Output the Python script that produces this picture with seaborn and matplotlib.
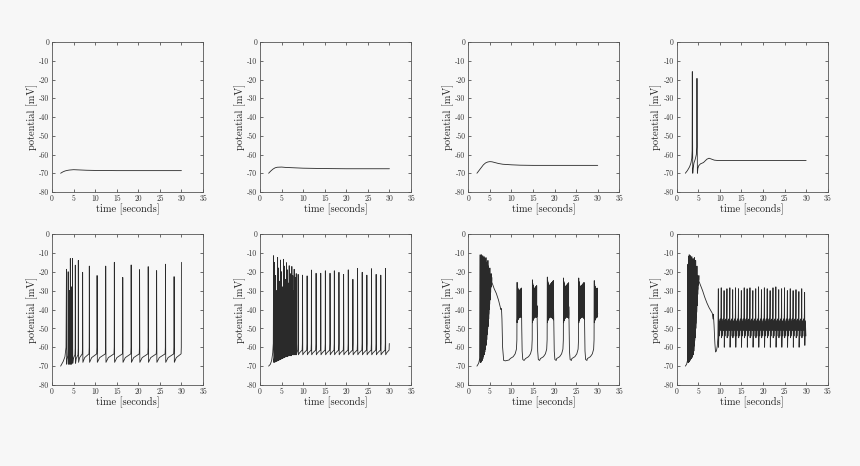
import numpy as np
import seaborn as sns
import matplotlib.pyplot as plt

T_END = 30

# ---- top row: sub-threshold / few spikes  (time [s], potential [mV])
p1_t = [2, 2.5, 3, 3.5, 4, 5, 6, 8, 10, 15, 20, 25, 30]
p1_v = [-70, -69.3, -68.8, -68.5, -68.3, -68.1, -68.2, -68.4, -68.5, -68.6, -68.6, -68.6, -68.6]

p2_t = [2, 2.5, 3, 3.5, 4, 5, 6, 8, 10, 15, 20, 25, 30]
p2_v = [-70, -68.8, -67.8, -67.1, -66.8, -66.7, -66.9, -67.1, -67.3, -67.5, -67.6, -67.6, -67.6]

p3_t = [2, 2.5, 3, 3.5, 4, 4.5, 5, 5.5, 6, 7, 8, 10, 12, 15, 20, 25, 30]
p3_v = [-70, -68.5, -67, -65.5, -64.5, -64, -63.8, -63.9, -64.2, -64.8, -65.2, -65.5, -65.7,
        -65.8, -65.8, -65.8, -65.8]

p4_t = [2, 2.5, 3, 3.3, 3.5, 3.58, 3.62, 3.67, 3.72, 3.8, 4.0, 4.3, 4.55, 4.65, 4.7, 4.75,
        4.8, 4.9, 5.1, 5.5, 6.2, 7.0, 7.5, 8.0, 8.7, 9.5, 12, 20, 30]
p4_v = [-70, -68.5, -66.5, -64.5, -62, -58, -15.8, -45, -70, -67.5, -64.5, -62.5, -60, -56,
        -19.4, -50, -70, -67.5, -66, -65, -64.3, -62.5, -62, -62.4, -63, -63.2, -63.2, -63.2, -63.2]

# ---- bottom row: spiking / bursting
p5_start_t = [2, 2.6, 3.0, 3.25]
p5_start_v = [-70, -67.5, -65, -60]
p5_spike_t = [3.35, 3.75, 4.05, 4.25, 4.5, 4.75, 5.4, 6.1, 7.1, 8.65, 10.45, 12.45, 14.45,
              16.4, 18.35, 20.3, 22.3, 24.25, 26.3, 28.3, 30.0]
p5_peak = [-18.7, -20, -30, -13, -28, -13, -16.5, -14, -20.3, -17, -22, -17, -15, -23, -16.4,
           -18.9, -17.3, -19.4, -16, -22.6, -15]
p5_trough = [-69, -69, -69, -69, -69, -68.5, -68.5, -68, -68, -68, -68, -68, -68, -68, -68,
             -68, -68, -68, -68, -68, -68]

p6_start_t = [2, 2.4, 2.7, 2.95, 3.08]
p6_start_v = [-70, -69, -67, -63, -58]
p6_burst_t = [3.15, 3.38, 3.62, 3.85, 4.08, 4.31, 4.54, 4.77, 5.0, 5.23, 5.46, 5.69, 5.92,
              6.15, 6.38, 6.6, 6.77, 7.0, 7.2, 7.38, 7.6, 7.78, 7.92, 8.15, 8.4]
p6_burst_peak = [-11.5, -15, -22, -30, -12.4, -18, -25, -13.8, -20, -28, -13.4, -17, -24,
                 -15.2, -19, -26, -16.8, -21, -28, -17.2, -22, -30, -18.7, -23, -21]
p6_burst_trough = [-68, -68, -67.5, -67.5, -67, -67, -66.5, -66.5, -66, -66, -65.5, -65.5,
                   -65, -65, -65, -64.5, -64.5, -64.5, -64.5, -64, -64, -64, -64, -64, -64]
p6_reg_t = [8.84, 9.85, 10.92, 11.92, 13.0, 14.08, 15.15, 16.23, 17.23, 18.3, 19.38, 20.46,
            21.53, 22.61, 23.69, 24.77, 25.84, 26.92, 28.0, 29.07]
p6_reg_peak = [-21.4, -21.8, -22.2, -19.1, -20.8, -20.8, -19.5, -20.8, -19.5, -20.3, -21.4,
               -19, -24, -18.2, -20.3, -21.8, -18.4, -21.4, -21.8, -18.2]
p6_reg_trough = [-64] * len(p6_reg_t)

p7_start_t = [2, 2.4, 2.65]
p7_start_v = [-70, -68.5, -66]
p7_init_t = [2.75, 2.9, 3.05, 3.2, 3.35, 3.5, 3.65, 3.8, 3.95, 4.1, 4.25, 4.4, 4.55, 4.7,
             4.85, 5.0, 5.15, 5.3]
p7_init_peak = [-11, -14, -11, -20, -11.5, -16, -12, -13, -18, -12.5, -15, -20, -14, -17,
                -19, -18, -22, -21]
p7_init_trough = [-68, -68, -67.5, -67, -66, -65, -64, -62.5, -61, -59, -56, -53, -49, -45,
                  -40, -35, -31, -28]
p7_decay_t = [5.45, 6.0, 6.5, 7.0, 7.4, 7.55, 7.65, 7.72, 7.8, 7.95, 8.2, 8.6, 9.0, 9.5]
p7_decay_v = [-25.5, -29, -31.5, -35, -38.5, -40, -39.5, -41, -45, -60, -67, -67.2, -67, -66.7]
p7_burst_on = [11.31, 14.86, 18.32, 22.08, 25.6, 29.2]
p7_burst_off = [12.33, 15.93, 19.77, 23.3, 26.9, 30.6]
p7_burst_top = [-25.6, -24.3, -22.8, -23.3, -23.3, -24.7]
p7_cyc_dt = [0, 0.09, 0.18, 0.27, 0.36, 0.45, 0.54, 0.63, 0.72, 0.81, 0.9, 0.99, 1.08,
             1.17, 1.26, 1.35, 1.44]
p7_cyc_peak = [-26, -28, -29, -30, -30.5, -30.5, -30.5, -30, -30, -29.5, -29.5, -29, -29,
               -28.5, -28.5, -28, -28]
p7_cyc_trough = [-47, -46, -45.5, -45, -44.5, -44.5, -44, -44, -44, -44, -44, -44, -44.5,
                 -44.5, -45, -45, -45.5]
p7_ramp_dt = [-1.6, -0.9, -0.45, -0.15, -0.05]
p7_ramp_v = [-66, -65, -63.5, -61, -56]
p7_drop_dt = [0.06, 0.15, 0.3, 0.6]
p7_drop_v = [-50, -62, -66.5, -67]

p8_start_t = [2, 2.3, 2.5]
p8_start_v = [-70, -69, -67]
p8_init_t = [2.6, 2.75, 2.9, 3.05, 3.2, 3.35, 3.5, 3.65, 3.8, 3.95, 4.1, 4.25, 4.4, 4.55,
             4.7, 4.85, 5.0]
p8_init_peak = [-16, -12, -11, -14, -11.5, -13, -12, -17, -13, -15, -12.5, -18, -14, -20,
                -17, -22, -24]
p8_init_trough = [-68, -68, -67.5, -67, -66.5, -66, -65.5, -65, -64, -62, -59, -55, -50,
                  -44, -38, -32, -27]
p8_decay_t = [5.15, 5.5, 6.0, 6.5, 7.0, 7.5, 8.0, 8.25, 8.35, 8.42, 8.5, 8.65, 8.85, 9.0,
              9.2, 9.4, 9.55]
p8_decay_v = [-25, -27, -30, -33.5, -36.5, -39, -41, -42, -44, -45, -42.5, -48, -58, -62.5,
              -62, -59.5, -55]
p8_osc_t = [9.65, 10.32, 10.98, 11.65, 12.32, 12.98, 13.65, 14.32, 14.98, 15.65, 16.32,
            16.98, 17.65, 18.32, 18.98, 19.65, 20.32, 20.98, 21.65, 22.32, 22.98, 23.65,
            24.32, 24.98, 25.65, 26.32, 26.98, 27.65, 28.32, 28.98, 29.65]
p8_osc_peak = [-29, -28.5, -30, -29, -28.5, -29.5, -28.5, -29, -30, -28.5, -29, -28.5, -30,
               -29, -28, -29.5, -28.5, -29, -30, -28.5, -28, -29.5, -29, -28.5, -30, -29,
               -30, -29.5, -30.5, -29, -31]
p8_osc_trough = [-60, -55, -60, -55, -60, -55, -60, -55, -60, -55, -60, -55, -60, -55, -60,
                 -55, -60, -55, -60, -55, -60, -55, -60, -55, -60, -55, -60, -55, -60, -55,
                 -59]
p8_sub_dt = [0.05, 0.17, 0.3, 0.42, 0.53, 0.62]
p8_sub_v = [-46, -54, -45, -51, -42]


def spike_train(times, peaks, troughs, t_after, d_rest, d_pre, d_up):
    t, v = [], []
    for i, ts in enumerate(times):
        t.append(ts)
        v.append(peaks[i])
        nxt = times[i + 1] if i + 1 < len(times) else t_after
        g = nxt - ts
        if g <= 0:
            continue
        t += [ts + min(0.06, 0.2 * g), ts + 0.3 * g, nxt - min(0.08, 0.2 * g), nxt - min(0.03, 0.08 * g)]
        v += [troughs[i], troughs[i] + d_rest, troughs[i] + d_pre, troughs[i] + d_up]
    return t, v


def clip(t, v):
    t, v = np.array(t), np.array(v)
    keep = t <= T_END
    return t[keep], v[keep]


# panel 5
st, sv = spike_train(p5_spike_t, p5_peak, p5_trough, T_END, 2.5, 4.5, 8)
p5 = clip(p5_start_t + st, p5_start_v + sv)

# panel 6
st, sv = spike_train(p6_burst_t + p6_reg_t, p6_burst_peak + p6_reg_peak,
                     p6_burst_trough + p6_reg_trough, T_END, 1, 2.5, 6)
p6 = clip(p6_start_t + st, p6_start_v + sv)

# panel 7
t7, v7 = list(p7_start_t), list(p7_start_v)
st, sv = spike_train(p7_init_t, p7_init_peak, p7_init_trough, p7_decay_t[0], 2, 3, 5)
t7 += st + p7_decay_t
v7 += sv + p7_decay_v
for on, off, top in zip(p7_burst_on, p7_burst_off, p7_burst_top):
    t7 += [on + d for d in p7_ramp_dt]
    v7 += p7_ramp_v
    n = sum(1 for d in p7_cyc_dt if d <= off - on)
    shift = top - p7_cyc_peak[0]
    st, sv = spike_train([on + d for d in p7_cyc_dt[:n]], [p + shift for p in p7_cyc_peak[:n]],
                         p7_cyc_trough[:n], off, 1, 2, 6)
    t7 += st + [off + d for d in p7_drop_dt]
    v7 += sv + p7_drop_v
p7 = clip(t7, v7)

# panel 8
t8, v8 = list(p8_start_t), list(p8_start_v)
st, sv = spike_train(p8_init_t, p8_init_peak, p8_init_trough, p8_decay_t[0], 2, 3, 5)
t8 += st + p8_decay_t
v8 += sv + p8_decay_v
for ti, pk, tr in zip(p8_osc_t, p8_osc_peak, p8_osc_trough):
    t8 += [ti] + [ti + d for d in p8_sub_dt]
    v8 += [pk, tr] + p8_sub_v
p8 = clip(t8, v8)

panels = [(p1_t, p1_v), (p2_t, p2_v), (p3_t, p3_v), (p4_t, p4_v), p5, p6, p7, p8]

sns.set_theme(style="ticks")
plt.rcParams["font.family"] = ["cmr10", "DejaVu Serif"]
plt.rcParams["axes.unicode_minus"] = False
plt.rcParams["axes.formatter.use_mathtext"] = False

bg = "#f7f7f7"
fig = plt.figure(figsize=(8.6, 4.66), dpi=100, facecolor=bg)
W, H = 860, 466
lefts = [52, 260, 468.3, 676.7]
rows = [(42, 192), (234, 385)]

for k, (t, v) in enumerate(panels):
    top, bot = rows[k // 4]
    ax = fig.add_axes([lefts[k % 4] / W, 1 - bot / H, 151 / W, (bot - top) / H])
    ax.set_facecolor(bg)
    sns.lineplot(x=np.asarray(t), y=np.asarray(v), ax=ax, sort=False, estimator=None,
                 color="#2a2a2a", lw=0.6)
    ax.set_xlim(0, 35)
    ax.set_ylim(-80, 0)
    ax.set_xticks(range(0, 36, 5))
    ax.set_yticks(range(-80, 1, 10))
    ax.tick_params(direction="in", top=True, right=True, length=2.5, width=0.5,
                   labelsize=5.5, pad=2, colors="#333333")
    for s in ax.spines.values():
        s.set_linewidth(0.6)
        s.set_color("#555555")
    ax.set_xlabel("time [seconds]", fontsize=7.5, labelpad=0, color="#222222")
    ax.set_ylabel("potential [mV]", fontsize=7.5, labelpad=1, color="#222222")

fig.savefig("out.png", dpi=100, facecolor=bg)
